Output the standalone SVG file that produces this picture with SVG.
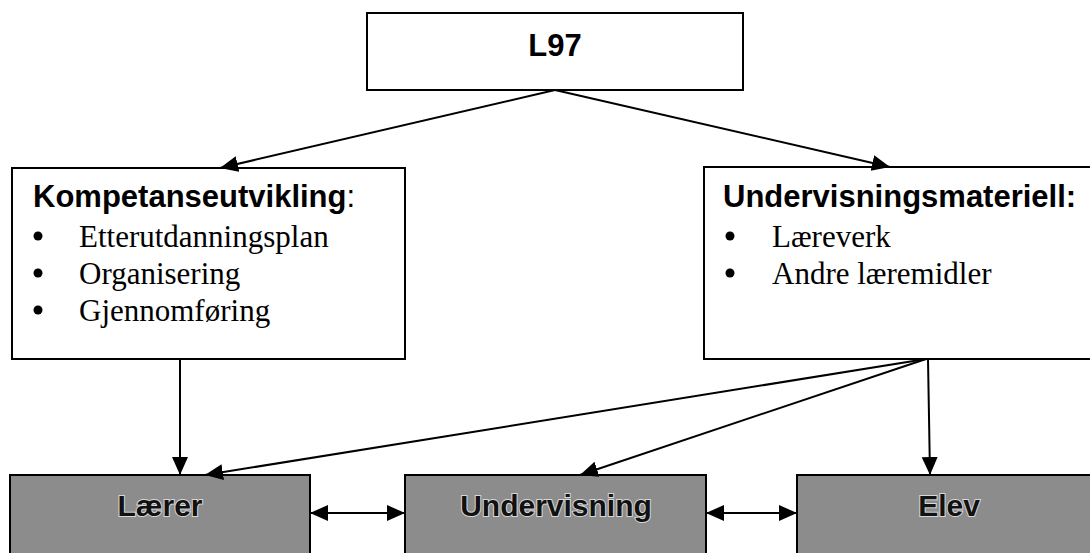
<svg xmlns="http://www.w3.org/2000/svg" width="1090" height="553" viewBox="0 0 1090 553">
<style>
.box{fill:#fff;stroke:#000;stroke-width:2}
.dark{fill:#8c8c8c;stroke:#000;stroke-width:2}
.h{font-family:"Liberation Sans",Arial,sans-serif;font-weight:bold;font-size:31px;fill:#000}
.lab{font-family:"Liberation Sans",Arial,sans-serif;font-weight:bold;font-size:30px;fill:#111;stroke:#d8d8d8;stroke-width:2;paint-order:stroke}
.li{font-family:"Liberation Serif","Times New Roman",serif;font-size:31px;fill:#000}
.c{fill:none;stroke:#000;stroke-width:2}
</style>
<defs>
<marker id="ah" markerUnits="userSpaceOnUse" markerWidth="20" markerHeight="18" refX="18" refY="8" orient="auto-start-reverse">
<path d="M0,0 L18,8 L0,16 z" fill="#000"/>
</marker>
</defs>
<g id="n-l97">
<rect class="box" x="367" y="13" width="376" height="77"/>
<text class="h" x="555" y="56" text-anchor="middle">L97</text>
</g>
<g id="n-kompetanse">
<rect class="box" x="12" y="168" width="393" height="191"/>
<text class="h" x="33" y="207">Kompetanseutvikling<tspan font-weight="normal">:</tspan></text>
<circle cx="38" cy="236" r="4.5"/>
<text class="li" x="79" y="247">Etterutdanningsplan</text>
<circle cx="38" cy="273" r="4.5"/>
<text class="li" x="79" y="284">Organisering</text>
<circle cx="38" cy="310" r="4.5"/>
<text class="li" x="79" y="321">Gjennomføring</text>
</g>
<g id="n-materiell">
<rect class="box" x="704" y="167" width="392" height="192"/>
<text class="h" x="723" y="207">Undervisningsmateriell:</text>
<circle cx="730" cy="236" r="4.5"/>
<text class="li" x="772" y="247">Læreverk</text>
<circle cx="730" cy="273" r="4.5"/>
<text class="li" x="772" y="284">Andre læremidler</text>
</g>
<g id="n-laerer">
<rect class="dark" x="10" y="475" width="300" height="90"/>
<text class="lab" x="160" y="516" text-anchor="middle">Lærer</text>
</g>
<g id="n-undervisning">
<rect class="dark" x="405" y="475" width="301" height="90"/>
<text class="lab" x="556" y="516" text-anchor="middle">Undervisning</text>
</g>
<g id="n-elev">
<rect class="dark" x="797" y="475" width="305" height="90"/>
<text class="lab" x="949" y="516" text-anchor="middle">Elev</text>
</g>
<g id="connectors">
<line class="c" x1="555" y1="90" x2="220" y2="168" marker-end="url(#ah)"/>
<line class="c" x1="555" y1="90" x2="890" y2="167" marker-end="url(#ah)"/>
<line class="c" x1="180" y1="359" x2="180" y2="475" marker-end="url(#ah)"/>
<line class="c" x1="928" y1="359" x2="930" y2="475" marker-end="url(#ah)"/>
<line class="c" x1="926" y1="359" x2="205" y2="475" marker-end="url(#ah)"/>
<line class="c" x1="926" y1="359" x2="580" y2="475" marker-end="url(#ah)"/>
<line class="c" x1="310" y1="513" x2="405" y2="513" marker-start="url(#ah)" marker-end="url(#ah)"/>
<line class="c" x1="706" y1="513" x2="797" y2="513" marker-start="url(#ah)" marker-end="url(#ah)"/>
</g>
</svg>
